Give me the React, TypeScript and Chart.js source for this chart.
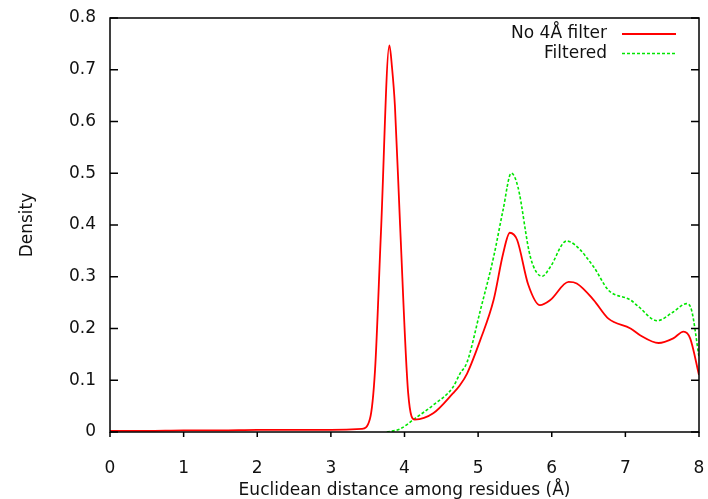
import React, { useEffect, useRef } from "react";
import { Chart, registerables } from "chart.js";

Chart.register(...registerables);

// ---- data ----
const xTicks = [0, 1, 2, 3, 4, 5, 6, 7, 8];
const yTicks = [0, 0.1, 0.2, 0.3, 0.4, 0.5, 0.6, 0.7, 0.8];

const seriesNames = ["No 4Å filter", "Filtered"];

const redX = [0, 0.5, 1, 1.5, 2, 2.5, 3, 3.42, 3.53, 3.6, 3.68, 3.795, 3.83, 3.87, 3.94, 4.05, 4.14, 4.39, 4.66, 4.75, 4.85, 5.03, 5.21, 5.34, 5.43, 5.53, 5.68, 5.84, 5.98, 6.23, 6.34, 6.57, 6.77, 7.07, 7.2, 7.45, 7.65, 7.79, 7.88, 8.0];
const redY = [0.002, 0.002, 0.003, 0.003, 0.004, 0.004, 0.004, 0.006, 0.025, 0.12, 0.385, 0.747, 0.705, 0.63, 0.4, 0.075, 0.024, 0.036, 0.075, 0.09, 0.113, 0.178, 0.255, 0.345, 0.385, 0.371, 0.285, 0.245, 0.255, 0.29, 0.287, 0.255, 0.219, 0.2, 0.187, 0.172, 0.181, 0.194, 0.181, 0.11];

const greenX = [3.76, 3.94, 4.14, 4.39, 4.66, 4.75, 4.85, 5.03, 5.21, 5.34, 5.45, 5.54, 5.71, 5.87, 5.98, 6.2, 6.32, 6.57, 6.77, 7.07, 7.18, 7.43, 7.65, 7.83, 7.9, 8.0];
const greenY = [0, 0.006, 0.026, 0.052, 0.087, 0.112, 0.135, 0.235, 0.338, 0.43, 0.5, 0.474, 0.338, 0.301, 0.319, 0.369, 0.361, 0.319, 0.274, 0.255, 0.242, 0.215, 0.232, 0.248, 0.235, 0.145];

const FONT = "'DejaVu Sans', 'Liberation Sans', sans-serif";
const TEXT = "#111";

const framePlugin = {
  id: "gnuFrame",
  afterDraw(chart: any) {
    const { ctx, chartArea: a, scales } = chart;
    ctx.save();
    ctx.strokeStyle = "#000";
    ctx.lineWidth = 1.5;
    ctx.strokeRect(a.left, a.top, a.right - a.left, a.bottom - a.top);
    ctx.beginPath();
    for (const v of yTicks) {
      const y = scales.y.getPixelForValue(v);
      ctx.moveTo(a.left, y);
      ctx.lineTo(a.left + 8, y);
      ctx.moveTo(a.right, y);
      ctx.lineTo(a.right - 8, y);
    }
    for (const v of xTicks) {
      const x = scales.x.getPixelForValue(v);
      ctx.moveTo(x, a.bottom);
      ctx.lineTo(x, a.bottom + 5);
    }
    ctx.stroke();

    // legend (gnuplot style: right-aligned text, sample on the right)
    const ds = chart.data.datasets;
    ctx.font = `17px ${FONT}`;
    ctx.textAlign = "right";
    ctx.textBaseline = "middle";
    ds.forEach((d: any, i: number) => {
      const y = a.top + 16 + i * 19.5;
      ctx.fillStyle = TEXT;
      ctx.fillText(d.label, a.right - 92, y);
      ctx.beginPath();
      ctx.strokeStyle = d.borderColor;
      ctx.lineWidth = d.borderWidth;
      ctx.setLineDash(d.borderDash || []);
      ctx.moveTo(a.right - 77, y);
      ctx.lineTo(a.right - 23, y);
      ctx.stroke();
      ctx.setLineDash([]);
    });
    ctx.restore();
  },
};

export default function App() {
  const ref = useRef<HTMLCanvasElement | null>(null);
  useEffect(() => {
    if (!ref.current) return;
    const chart = new Chart(ref.current, {
      type: "scatter",
      data: {
        datasets: [
          {
            label: seriesNames[0],
            data: redX.map((x, i) => ({ x, y: redY[i] })),
            showLine: true,
            borderColor: "#ff0000",
            borderWidth: 1.8,
            pointRadius: 0,
            cubicInterpolationMode: "monotone",
          },
          {
            label: seriesNames[1],
            data: greenX.map((x, i) => ({ x, y: greenY[i] })),
            showLine: true,
            borderColor: "#00e600",
            borderWidth: 1.6,
            borderDash: [3, 2],
            pointRadius: 0,
            cubicInterpolationMode: "monotone",
          },
        ],
      } as any,
      options: {
        animation: false,
        responsive: true,
        maintainAspectRatio: false,
        layout: { padding: { top: 18, right: 9, left: 0, bottom: 0 } },
        plugins: {
          legend: { display: false },
          tooltip: { enabled: false },
        },
        scales: {
          x: {
            type: "linear",
            min: 0,
            max: 8,
            grid: { display: false, drawTicks: false },
            border: { display: false },
            ticks: {
              stepSize: 1,
              padding: 26,
              color: TEXT,
              font: { family: FONT, size: 17 },
              callback: (v: any) => String(v),
            },
            title: {
              display: true,
              text: "Euclidean distance among residues (Å)",
              color: TEXT,
              font: { family: FONT, size: 17, lineHeight: 1.0 },
              padding: { top: 0, bottom: 0 },
            },
            afterFit: (s: any) => {
              s.height = 67;
              s.paddingLeft = 0;
              s.paddingRight = 0;
            },
          },
          y: {
            type: "linear",
            min: 0,
            max: 0.8,
            grid: { display: false, drawTicks: false },
            border: { display: false },
            ticks: {
              stepSize: 0.1,
              padding: 14,
              color: TEXT,
              font: { family: FONT, size: 17 },
              callback: (v: any) => String(Number(Number(v).toFixed(1))),
            },
            title: {
              display: true,
              text: "Density",
              color: TEXT,
              font: { family: FONT, size: 17 },
              padding: { top: 17, bottom: 0 },
            },
            afterFit: (s: any) => {
              s.width = 110;
              s.paddingTop = 0;
              s.paddingBottom = 0;
            },
          },
        },
      },
      plugins: [framePlugin],
    });
    return () => chart.destroy();
  }, []);
  return (
    <div style={{ position: "absolute", left: 0, top: 0, width: 708, height: 499, background: "#fff" }}>
      <canvas ref={ref} />
    </div>
  );
}
